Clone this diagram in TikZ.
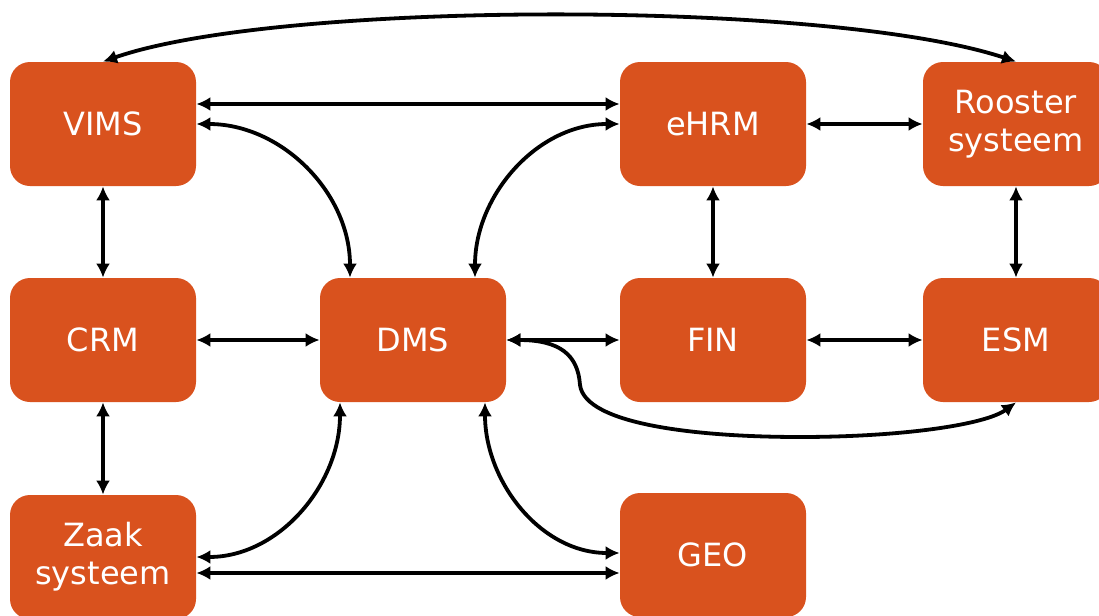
\documentclass[tikz,border=0pt]{standalone}
\usepackage{fontspec}
\setsansfont{DejaVu Sans}
\usetikzlibrary{arrows.meta}
\definecolor{sysorange}{RGB}{217,82,30}

\begin{document}
\begin{tikzpicture}[x=0.5pt, y=-0.5pt,
    sys/.style={fill=sysorange, rounded corners=10pt, minimum width=93pt, minimum height=62pt, inner sep=2pt, text=white, align=center, font=\sffamily\fontsize{16}{19}\selectfont},
    link/.style={{Latex[length=7pt,width=7pt]}-{Latex[length=7pt,width=7pt]}, line width=1.9pt}]
        \useasboundingbox (0,0) rectangle (1099,616);
        \clip (0,0) rectangle (1099,616);
        \node[sys] (vims) at (103,124) {VIMS};
        \node[sys] (ehrm) at (713,124) {eHRM};
        \node[sys] (rooster) at (1016,124) {Rooster\\systeem};
        \node[sys] (crm) at (103,340) {CRM};
        \node[sys] (dms) at (413,340) {DMS};
        \node[sys] (fin) at (713,340) {FIN};
        \node[sys] (esm) at (1016,340) {ESM};
        \node[sys] (zaak) at (103,557) {Zaak\\systeem};
        \node[sys] (geo) at (713,555) {GEO};

        \draw[link] (vims.north) .. controls (280,0) and (830,0) .. (rooster.north);
        \draw[link] ([yshift=10pt]vims.east) -- ([yshift=10pt]ehrm.west);
        \draw[link] (vims.east) to[out=0, in=90] ([xshift=-31.5pt]dms.north);
        \draw[link] (ehrm.west) to[out=180, in=90] ([xshift=31pt]dms.north);
        \draw[link] (ehrm) -- (rooster);
        \draw[link] (vims) -- (crm);
        \draw[link] (ehrm) -- (fin);
        \draw[link] (rooster) -- (esm);
        \draw[link] (crm) -- (dms);
        \draw[link] (dms) -- (fin);
        \draw[link] (fin) -- (esm);
        \draw[link] (dms.east) .. controls (560,340) and (578,355) .. (580,385)
            .. controls (585,425) and (700,437) .. (800,437)
            .. controls (900,437) and (985,425) .. (esm.south);
        \draw[link] (crm) -- (zaak);
        \draw[link] ([yshift=0pt]zaak.east) to[out=0, in=-90] ([xshift=-36.5pt]dms.south);
        \draw[link] ([yshift=1pt]geo.west) to[out=180, in=-90] ([xshift=36pt]dms.south);
        \draw[link] ([yshift=-8pt]zaak.east) -- ([yshift=-9pt]geo.west);
      \end{tikzpicture}
\end{document}
